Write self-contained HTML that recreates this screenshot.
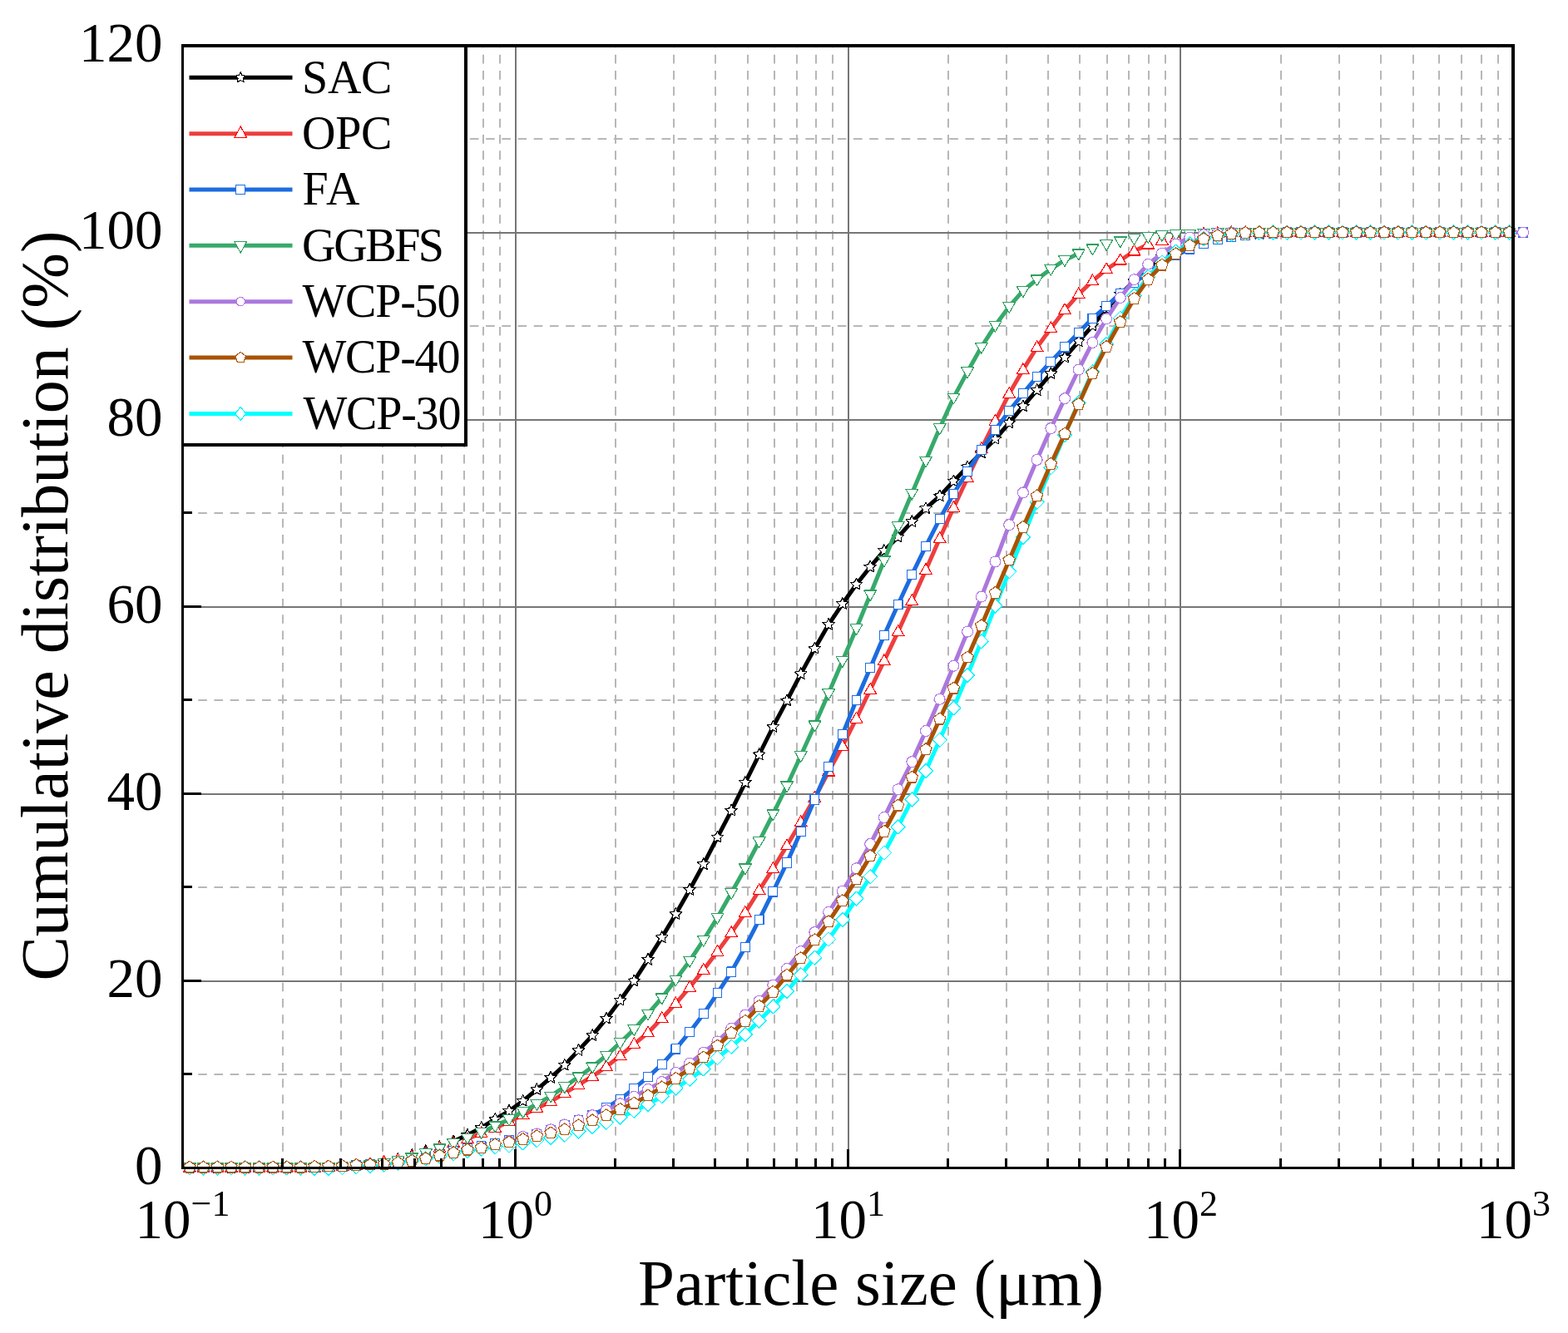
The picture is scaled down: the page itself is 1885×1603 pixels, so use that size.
<!DOCTYPE html><html><head><meta charset="utf-8"><title>Cumulative distribution</title>
<style>html,body{margin:0;padding:0;background:#fff;}svg{display:block;}text{font-family:"Liberation Serif","Times New Roman",serif;fill:#000;}</style></head><body>
<svg xmlns="http://www.w3.org/2000/svg" width="1885" height="1603" viewBox="0 0 1885 1603">
<rect x="0" y="0" width="1885" height="1603" fill="#fff"/>
<path d="M340 1404V55 M410 1404V55 M460 1404V55 M499 1404V55 M531 1404V55 M558 1404V55 M581 1404V55 M601 1404V55 M740 1404V55 M810 1404V55 M860 1404V55 M899 1404V55 M931 1404V55 M958 1404V55 M981 1404V55 M1001 1404V55 M1140 1404V55 M1210 1404V55 M1260 1404V55 M1298 1404V55 M1331 1404V55 M1357 1404V55 M1381 1404V55 M1401 1404V55 M1540 1404V55 M1610 1404V55 M1660 1404V55 M1699 1404V55 M1730 1404V55 M1757 1404V55 M1781 1404V55 M1801 1404V55" stroke="#b7b7b7" stroke-width="2" stroke-dasharray="10.6 8.64" fill="none"/>
<path d="M219 1292H1819 M219 1067H1819 M219 842H1819 M219 617H1819 M219 392H1819 M219 167H1819" stroke="#b7b7b7" stroke-width="2" stroke-dasharray="10.6 8.615" fill="none"/>
<rect x="619" y="55" width="2" height="1349" fill="#767676"/><rect x="1019" y="55" width="2" height="1349" fill="#767676"/><rect x="1418" y="55" width="2" height="1349" fill="#767676"/><rect x="219" y="1179" width="1600" height="2" fill="#767676"/><rect x="219" y="954" width="1600" height="2" fill="#767676"/><rect x="219" y="729" width="1600" height="2" fill="#767676"/><rect x="219" y="504" width="1600" height="2" fill="#767676"/><rect x="219" y="279" width="1600" height="2" fill="#767676"/>
<path d="M545.20,1372.50 L561.90,1364.90 L578.60,1356.20 L595.30,1345.90 L612.00,1336.10 L628.70,1323.90 L645.40,1310.30 L662.10,1295.90 L678.80,1280.90 L695.50,1263.10 L712.20,1245.10 L728.90,1224.90 L745.60,1203.00 L762.30,1179.60 L779.00,1153.90 L795.70,1127.40 L812.40,1099.30 L829.10,1069.90 L845.80,1039.30 L862.50,1006.80 L879.20,974.80 L895.90,941.10 L912.60,907.50 L929.30,874.00 L946.00,842.60 L962.70,810.40 L979.40,779.90 L996.10,751.10 L1012.80,726.10 L1029.50,702.80 L1046.20,681.70 L1062.90,662.20 L1079.60,645.80 L1096.30,627.40 L1113.00,611.40 L1129.70,596.60 L1146.40,578.70 L1163.10,561.50 L1179.80,544.40 L1196.50,528.00 L1213.20,508.50 L1229.90,488.60 L1246.60,469.20 L1263.30,449.30 L1280.00,429.80 L1296.70,410.60 L1313.40,391.60 L1330.10,371.10 L1346.80,354.10 L1363.50,338.10 L1380.20,321.60 L1396.90,309.00 L1413.60,301.30 L1430.30,294.01" stroke="#000000" stroke-width="5.0" fill="none" stroke-linejoin="round"/>
<path d="M227.90,1396.53 230.02,1401.12 235.03,1401.71 231.32,1405.14 232.31,1410.10 227.90,1407.63 223.49,1410.10 224.48,1405.14 220.77,1401.71 225.78,1401.12ZM244.60,1396.53 246.72,1401.12 251.73,1401.71 248.02,1405.14 249.01,1410.10 244.60,1407.63 240.19,1410.10 241.18,1405.14 237.47,1401.71 242.48,1401.12ZM261.30,1396.53 263.42,1401.12 268.43,1401.71 264.72,1405.14 265.71,1410.10 261.30,1407.63 256.89,1410.10 257.88,1405.14 254.17,1401.71 259.18,1401.12ZM278.00,1396.53 280.12,1401.12 285.13,1401.71 281.42,1405.14 282.41,1410.10 278.00,1407.63 273.59,1410.10 274.58,1405.14 270.87,1401.71 275.88,1401.12ZM294.70,1396.53 296.82,1401.12 301.83,1401.71 298.12,1405.14 299.11,1410.10 294.70,1407.63 290.29,1410.10 291.28,1405.14 287.57,1401.71 292.58,1401.12ZM311.40,1396.53 313.52,1401.12 318.53,1401.71 314.82,1405.14 315.81,1410.10 311.40,1407.63 306.99,1410.10 307.98,1405.14 304.27,1401.71 309.28,1401.12ZM328.10,1396.53 330.22,1401.12 335.23,1401.71 331.52,1405.14 332.51,1410.10 328.10,1407.63 323.69,1410.10 324.68,1405.14 320.97,1401.71 325.98,1401.12ZM344.80,1396.53 346.92,1401.12 351.93,1401.71 348.22,1405.14 349.21,1410.10 344.80,1407.63 340.39,1410.10 341.38,1405.14 337.67,1401.71 342.68,1401.12ZM361.50,1396.53 363.62,1401.12 368.63,1401.71 364.92,1405.14 365.91,1410.10 361.50,1407.63 357.09,1410.10 358.08,1405.14 354.37,1401.71 359.38,1401.12ZM378.20,1396.06 380.32,1400.65 385.33,1401.24 381.62,1404.67 382.61,1409.63 378.20,1407.16 373.79,1409.63 374.78,1404.67 371.07,1401.24 376.08,1400.65ZM394.90,1395.59 397.02,1400.18 402.03,1400.77 398.32,1404.20 399.31,1409.16 394.90,1406.69 390.49,1409.16 391.48,1404.20 387.77,1400.77 392.78,1400.18ZM411.60,1394.65 413.72,1399.24 418.73,1399.83 415.02,1403.26 416.01,1408.22 411.60,1405.75 407.19,1408.22 408.18,1403.26 404.47,1399.83 409.48,1399.24ZM428.30,1393.71 430.42,1398.30 435.43,1398.89 431.72,1402.32 432.71,1407.28 428.30,1404.81 423.89,1407.28 424.88,1402.32 421.17,1398.89 426.18,1398.30ZM445.00,1392.30 447.12,1396.89 452.13,1397.48 448.42,1400.91 449.41,1405.87 445.00,1403.40 440.59,1405.87 441.58,1400.91 437.87,1397.48 442.88,1396.89ZM461.70,1389.95 463.82,1394.54 468.83,1395.13 465.12,1398.56 466.11,1403.52 461.70,1401.05 457.29,1403.52 458.28,1398.56 454.57,1395.13 459.58,1394.54ZM478.40,1386.60 480.52,1391.19 485.53,1391.78 481.82,1395.21 482.81,1400.17 478.40,1397.70 473.99,1400.17 474.98,1395.21 471.27,1391.78 476.28,1391.19ZM495.10,1381.70 497.22,1386.29 502.23,1386.88 498.52,1390.31 499.51,1395.27 495.10,1392.80 490.69,1395.27 491.68,1390.31 487.97,1386.88 492.98,1386.29ZM511.80,1376.60 513.92,1381.19 518.93,1381.78 515.22,1385.21 516.21,1390.17 511.80,1387.70 507.39,1390.17 508.38,1385.21 504.67,1381.78 509.68,1381.19ZM528.50,1371.70 530.62,1376.29 535.63,1376.88 531.92,1380.31 532.91,1385.27 528.50,1382.80 524.09,1385.27 525.08,1380.31 521.37,1376.88 526.38,1376.29ZM545.20,1365.00 547.32,1369.59 552.33,1370.18 548.62,1373.61 549.61,1378.57 545.20,1376.10 540.79,1378.57 541.78,1373.61 538.07,1370.18 543.08,1369.59ZM561.90,1357.40 564.02,1361.99 569.03,1362.58 565.32,1366.01 566.31,1370.97 561.90,1368.50 557.49,1370.97 558.48,1366.01 554.77,1362.58 559.78,1361.99ZM578.60,1348.70 580.72,1353.29 585.73,1353.88 582.02,1357.31 583.01,1362.27 578.60,1359.80 574.19,1362.27 575.18,1357.31 571.47,1353.88 576.48,1353.29ZM595.30,1338.40 597.42,1342.99 602.43,1343.58 598.72,1347.01 599.71,1351.97 595.30,1349.50 590.89,1351.97 591.88,1347.01 588.17,1343.58 593.18,1342.99ZM612.00,1328.60 614.12,1333.19 619.13,1333.78 615.42,1337.21 616.41,1342.17 612.00,1339.70 607.59,1342.17 608.58,1337.21 604.87,1333.78 609.88,1333.19ZM628.70,1316.40 630.82,1320.99 635.83,1321.58 632.12,1325.01 633.11,1329.97 628.70,1327.50 624.29,1329.97 625.28,1325.01 621.57,1321.58 626.58,1320.99ZM645.40,1302.80 647.52,1307.39 652.53,1307.98 648.82,1311.41 649.81,1316.37 645.40,1313.90 640.99,1316.37 641.98,1311.41 638.27,1307.98 643.28,1307.39ZM662.10,1288.40 664.22,1292.99 669.23,1293.58 665.52,1297.01 666.51,1301.97 662.10,1299.50 657.69,1301.97 658.68,1297.01 654.97,1293.58 659.98,1292.99ZM678.80,1273.40 680.92,1277.99 685.93,1278.58 682.22,1282.01 683.21,1286.97 678.80,1284.50 674.39,1286.97 675.38,1282.01 671.67,1278.58 676.68,1277.99ZM695.50,1255.60 697.62,1260.19 702.63,1260.78 698.92,1264.21 699.91,1269.17 695.50,1266.70 691.09,1269.17 692.08,1264.21 688.37,1260.78 693.38,1260.19ZM712.20,1237.60 714.32,1242.19 719.33,1242.78 715.62,1246.21 716.61,1251.17 712.20,1248.70 707.79,1251.17 708.78,1246.21 705.07,1242.78 710.08,1242.19ZM728.90,1217.40 731.02,1221.99 736.03,1222.58 732.32,1226.01 733.31,1230.97 728.90,1228.50 724.49,1230.97 725.48,1226.01 721.77,1222.58 726.78,1221.99ZM745.60,1195.50 747.72,1200.09 752.73,1200.68 749.02,1204.11 750.01,1209.07 745.60,1206.60 741.19,1209.07 742.18,1204.11 738.47,1200.68 743.48,1200.09ZM762.30,1172.10 764.42,1176.69 769.43,1177.28 765.72,1180.71 766.71,1185.67 762.30,1183.20 757.89,1185.67 758.88,1180.71 755.17,1177.28 760.18,1176.69ZM779.00,1146.40 781.12,1150.99 786.13,1151.58 782.42,1155.01 783.41,1159.97 779.00,1157.50 774.59,1159.97 775.58,1155.01 771.87,1151.58 776.88,1150.99ZM795.70,1119.90 797.82,1124.49 802.83,1125.08 799.12,1128.51 800.11,1133.47 795.70,1131.00 791.29,1133.47 792.28,1128.51 788.57,1125.08 793.58,1124.49ZM812.40,1091.80 814.52,1096.39 819.53,1096.98 815.82,1100.41 816.81,1105.37 812.40,1102.90 807.99,1105.37 808.98,1100.41 805.27,1096.98 810.28,1096.39ZM829.10,1062.40 831.22,1066.99 836.23,1067.58 832.52,1071.01 833.51,1075.97 829.10,1073.50 824.69,1075.97 825.68,1071.01 821.97,1067.58 826.98,1066.99ZM845.80,1031.80 847.92,1036.39 852.93,1036.98 849.22,1040.41 850.21,1045.37 845.80,1042.90 841.39,1045.37 842.38,1040.41 838.67,1036.98 843.68,1036.39ZM862.50,999.30 864.62,1003.89 869.63,1004.48 865.92,1007.91 866.91,1012.87 862.50,1010.40 858.09,1012.87 859.08,1007.91 855.37,1004.48 860.38,1003.89ZM879.20,967.30 881.32,971.89 886.33,972.48 882.62,975.91 883.61,980.87 879.20,978.40 874.79,980.87 875.78,975.91 872.07,972.48 877.08,971.89ZM895.90,933.60 898.02,938.19 903.03,938.78 899.32,942.21 900.31,947.17 895.90,944.70 891.49,947.17 892.48,942.21 888.77,938.78 893.78,938.19ZM912.60,900.00 914.72,904.59 919.73,905.18 916.02,908.61 917.01,913.57 912.60,911.10 908.19,913.57 909.18,908.61 905.47,905.18 910.48,904.59ZM929.30,866.50 931.42,871.09 936.43,871.68 932.72,875.11 933.71,880.07 929.30,877.60 924.89,880.07 925.88,875.11 922.17,871.68 927.18,871.09ZM946.00,835.10 948.12,839.69 953.13,840.28 949.42,843.71 950.41,848.67 946.00,846.20 941.59,848.67 942.58,843.71 938.87,840.28 943.88,839.69ZM962.70,802.90 964.82,807.49 969.83,808.08 966.12,811.51 967.11,816.47 962.70,814.00 958.29,816.47 959.28,811.51 955.57,808.08 960.58,807.49ZM979.40,772.40 981.52,776.99 986.53,777.58 982.82,781.01 983.81,785.97 979.40,783.50 974.99,785.97 975.98,781.01 972.27,777.58 977.28,776.99ZM996.10,743.60 998.22,748.19 1003.23,748.78 999.52,752.21 1000.51,757.17 996.10,754.70 991.69,757.17 992.68,752.21 988.97,748.78 993.98,748.19ZM1012.80,718.60 1014.92,723.19 1019.93,723.78 1016.22,727.21 1017.21,732.17 1012.80,729.70 1008.39,732.17 1009.38,727.21 1005.67,723.78 1010.68,723.19ZM1029.50,695.30 1031.62,699.89 1036.63,700.48 1032.92,703.91 1033.91,708.87 1029.50,706.40 1025.09,708.87 1026.08,703.91 1022.37,700.48 1027.38,699.89ZM1046.20,674.20 1048.32,678.79 1053.33,679.38 1049.62,682.81 1050.61,687.77 1046.20,685.30 1041.79,687.77 1042.78,682.81 1039.07,679.38 1044.08,678.79ZM1062.90,654.70 1065.02,659.29 1070.03,659.88 1066.32,663.31 1067.31,668.27 1062.90,665.80 1058.49,668.27 1059.48,663.31 1055.77,659.88 1060.78,659.29ZM1079.60,638.30 1081.72,642.89 1086.73,643.48 1083.02,646.91 1084.01,651.87 1079.60,649.40 1075.19,651.87 1076.18,646.91 1072.47,643.48 1077.48,642.89ZM1096.30,619.90 1098.42,624.49 1103.43,625.08 1099.72,628.51 1100.71,633.47 1096.30,631.00 1091.89,633.47 1092.88,628.51 1089.17,625.08 1094.18,624.49ZM1113.00,603.90 1115.12,608.49 1120.13,609.08 1116.42,612.51 1117.41,617.47 1113.00,615.00 1108.59,617.47 1109.58,612.51 1105.87,609.08 1110.88,608.49ZM1129.70,589.10 1131.82,593.69 1136.83,594.28 1133.12,597.71 1134.11,602.67 1129.70,600.20 1125.29,602.67 1126.28,597.71 1122.57,594.28 1127.58,593.69ZM1146.40,571.20 1148.52,575.79 1153.53,576.38 1149.82,579.81 1150.81,584.77 1146.40,582.30 1141.99,584.77 1142.98,579.81 1139.27,576.38 1144.28,575.79ZM1163.10,554.00 1165.22,558.59 1170.23,559.18 1166.52,562.61 1167.51,567.57 1163.10,565.10 1158.69,567.57 1159.68,562.61 1155.97,559.18 1160.98,558.59ZM1179.80,536.90 1181.92,541.49 1186.93,542.08 1183.22,545.51 1184.21,550.47 1179.80,548.00 1175.39,550.47 1176.38,545.51 1172.67,542.08 1177.68,541.49ZM1196.50,520.50 1198.62,525.09 1203.63,525.68 1199.92,529.11 1200.91,534.07 1196.50,531.60 1192.09,534.07 1193.08,529.11 1189.37,525.68 1194.38,525.09ZM1213.20,501.00 1215.32,505.59 1220.33,506.18 1216.62,509.61 1217.61,514.57 1213.20,512.10 1208.79,514.57 1209.78,509.61 1206.07,506.18 1211.08,505.59ZM1229.90,481.10 1232.02,485.69 1237.03,486.28 1233.32,489.71 1234.31,494.67 1229.90,492.20 1225.49,494.67 1226.48,489.71 1222.77,486.28 1227.78,485.69ZM1246.60,461.70 1248.72,466.29 1253.73,466.88 1250.02,470.31 1251.01,475.27 1246.60,472.80 1242.19,475.27 1243.18,470.31 1239.47,466.88 1244.48,466.29ZM1263.30,441.80 1265.42,446.39 1270.43,446.98 1266.72,450.41 1267.71,455.37 1263.30,452.90 1258.89,455.37 1259.88,450.41 1256.17,446.98 1261.18,446.39ZM1280.00,422.30 1282.12,426.89 1287.13,427.48 1283.42,430.91 1284.41,435.87 1280.00,433.40 1275.59,435.87 1276.58,430.91 1272.87,427.48 1277.88,426.89ZM1296.70,403.10 1298.82,407.69 1303.83,408.28 1300.12,411.71 1301.11,416.67 1296.70,414.20 1292.29,416.67 1293.28,411.71 1289.57,408.28 1294.58,407.69ZM1313.40,384.10 1315.52,388.69 1320.53,389.28 1316.82,392.71 1317.81,397.67 1313.40,395.20 1308.99,397.67 1309.98,392.71 1306.27,389.28 1311.28,388.69ZM1330.10,363.60 1332.22,368.19 1337.23,368.78 1333.52,372.21 1334.51,377.17 1330.10,374.70 1325.69,377.17 1326.68,372.21 1322.97,368.78 1327.98,368.19ZM1346.80,346.60 1348.92,351.19 1353.93,351.78 1350.22,355.21 1351.21,360.17 1346.80,357.70 1342.39,360.17 1343.38,355.21 1339.67,351.78 1344.68,351.19ZM1363.50,330.60 1365.62,335.19 1370.63,335.78 1366.92,339.21 1367.91,344.17 1363.50,341.70 1359.09,344.17 1360.08,339.21 1356.37,335.78 1361.38,335.19ZM1380.20,314.10 1382.32,318.69 1387.33,319.28 1383.62,322.71 1384.61,327.67 1380.20,325.20 1375.79,327.67 1376.78,322.71 1373.07,319.28 1378.08,318.69ZM1396.90,301.50 1399.02,306.09 1404.03,306.68 1400.32,310.11 1401.31,315.07 1396.90,312.60 1392.49,315.07 1393.48,310.11 1389.77,306.68 1394.78,306.09ZM1413.60,293.80 1415.72,298.39 1420.73,298.98 1417.02,302.41 1418.01,307.37 1413.60,304.90 1409.19,307.37 1410.18,302.41 1406.47,298.98 1411.48,298.39ZM1430.30,286.51 1432.42,291.10 1437.43,291.69 1433.72,295.12 1434.71,300.08 1430.30,297.61 1425.89,300.08 1426.88,295.12 1423.17,291.69 1428.18,291.10ZM1447.00,281.26 1449.12,285.85 1454.13,286.44 1450.42,289.87 1451.41,294.83 1447.00,292.36 1442.59,294.83 1443.58,289.87 1439.87,286.44 1444.88,285.85ZM1463.70,277.65 1465.82,282.24 1470.83,282.84 1467.12,286.27 1468.11,291.22 1463.70,288.75 1459.29,291.22 1460.28,286.27 1456.57,282.84 1461.58,282.24ZM1480.40,275.59 1482.52,280.18 1487.53,280.78 1483.82,284.21 1484.81,289.16 1480.40,286.69 1475.99,289.16 1476.98,284.21 1473.27,280.78 1478.28,280.18ZM1497.10,274.05 1499.22,278.64 1504.23,279.23 1500.52,282.66 1501.51,287.62 1497.10,285.15 1492.69,287.62 1493.68,282.66 1489.97,279.23 1494.98,278.64ZM1513.80,273.53 1515.92,278.12 1520.93,278.72 1517.22,282.15 1518.21,287.10 1513.80,284.63 1509.39,287.10 1510.38,282.15 1506.67,278.72 1511.68,278.12ZM1530.50,273.02 1532.62,277.61 1537.63,278.20 1533.92,281.63 1534.91,286.59 1530.50,284.12 1526.09,286.59 1527.08,281.63 1523.37,278.20 1528.38,277.61ZM1547.20,272.09 1549.32,276.68 1554.33,277.27 1550.62,280.70 1551.61,285.66 1547.20,283.19 1542.79,285.66 1543.78,280.70 1540.07,277.27 1545.08,276.68ZM1563.90,272.07 1566.02,276.66 1571.03,277.26 1567.32,280.69 1568.31,285.64 1563.90,283.17 1559.49,285.64 1560.48,280.69 1556.77,277.26 1561.78,276.66ZM1580.60,272.06 1582.72,276.65 1587.73,277.24 1584.02,280.67 1585.01,285.63 1580.60,283.16 1576.19,285.63 1577.18,280.67 1573.47,277.24 1578.48,276.65ZM1597.30,272.05 1599.42,276.64 1604.43,277.23 1600.72,280.66 1601.71,285.62 1597.30,283.15 1592.89,285.62 1593.88,280.66 1590.17,277.23 1595.18,276.64ZM1614.00,272.04 1616.12,276.62 1621.13,277.22 1617.42,280.65 1618.41,285.60 1614.00,283.14 1609.59,285.60 1610.58,280.65 1606.87,277.22 1611.88,276.62ZM1630.70,272.03 1632.82,276.61 1637.83,277.21 1634.12,280.64 1635.11,285.59 1630.70,283.13 1626.29,285.59 1627.28,280.64 1623.57,277.21 1628.58,276.61ZM1647.40,272.02 1649.52,276.61 1654.53,277.20 1650.82,280.63 1651.81,285.59 1647.40,283.12 1642.99,285.59 1643.98,280.63 1640.27,277.20 1645.28,276.61ZM1664.10,272.01 1666.22,276.60 1671.23,277.19 1667.52,280.62 1668.51,285.58 1664.10,283.11 1659.69,285.58 1660.68,280.62 1656.97,277.19 1661.98,276.60ZM1680.80,272.01 1682.92,276.59 1687.93,277.19 1684.22,280.62 1685.21,285.57 1680.80,283.11 1676.39,285.57 1677.38,280.62 1673.67,277.19 1678.68,276.59ZM1697.50,272.00 1699.62,276.59 1704.63,277.18 1700.92,280.61 1701.91,285.57 1697.50,283.10 1693.09,285.57 1694.08,280.61 1690.37,277.18 1695.38,276.59ZM1714.20,272.00 1716.32,276.58 1721.33,277.18 1717.62,280.61 1718.61,285.56 1714.20,283.10 1709.79,285.56 1710.78,280.61 1707.07,277.18 1712.08,276.58ZM1730.90,271.99 1733.02,276.58 1738.03,277.18 1734.32,280.61 1735.31,285.56 1730.90,283.09 1726.49,285.56 1727.48,280.61 1723.77,277.18 1728.78,276.58ZM1747.60,271.99 1749.72,276.58 1754.73,277.17 1751.02,280.60 1752.01,285.56 1747.60,283.09 1743.19,285.56 1744.18,280.60 1740.47,277.17 1745.48,276.58ZM1764.30,271.99 1766.42,276.58 1771.43,277.17 1767.72,280.60 1768.71,285.56 1764.30,283.09 1759.89,285.56 1760.88,280.60 1757.17,277.17 1762.18,276.58ZM1781.00,271.99 1783.12,276.58 1788.13,277.17 1784.42,280.60 1785.41,285.56 1781.00,283.09 1776.59,285.56 1777.58,280.60 1773.87,277.17 1778.88,276.58ZM1797.70,271.99 1799.82,276.58 1804.83,277.17 1801.12,280.60 1802.11,285.56 1797.70,283.09 1793.29,285.56 1794.28,280.60 1790.57,277.17 1795.58,276.58ZM1814.40,271.99 1816.52,276.58 1821.53,277.17 1817.82,280.60 1818.81,285.56 1814.40,283.09 1809.99,285.56 1810.98,280.60 1807.27,277.17 1812.28,276.58Z" stroke="#000000" stroke-width="1.15" fill="#fff" stroke-linejoin="round" shape-rendering="crispEdges"/>
<path d="M561.90,1369.80 L578.60,1362.80M595.30,1356.70 L612.00,1348.50 L628.70,1340.90 L645.40,1332.70 L662.10,1324.70 L678.80,1314.60 L695.50,1304.40 L712.20,1294.50 L728.90,1282.70 L745.60,1269.70 L762.30,1255.70 L779.00,1241.90 L795.70,1224.60 L812.40,1206.80 L829.10,1187.40 L845.80,1166.30 L862.50,1144.33 L879.20,1121.62 L895.90,1097.50 L912.60,1070.70 L929.30,1044.70 L946.00,1016.90 L962.70,988.80 L979.40,959.50 L996.10,928.00 L1012.80,897.30 L1029.50,864.10 L1046.20,829.30 L1062.90,794.60 L1079.60,759.70 L1096.30,722.70 L1113.00,685.50 L1129.70,647.60 L1146.40,610.50 L1163.10,574.70 L1179.80,539.60 L1196.50,506.40 L1213.20,473.60 L1229.90,444.60 L1246.60,417.70 L1263.30,394.80 L1280.00,372.80 L1296.70,353.80 L1313.40,337.90 L1330.10,323.80 L1346.80,313.00 L1363.50,302.00 L1380.20,293.96" stroke="#ee3e3e" stroke-width="5.0" fill="none" stroke-linejoin="round"/>
<path d="M227.90,1396.17 235.30,1408.97 220.50,1408.97ZM244.60,1396.17 252.00,1408.97 237.20,1408.97ZM261.30,1396.17 268.70,1408.97 253.90,1408.97ZM278.00,1396.17 285.40,1408.97 270.60,1408.97ZM294.70,1396.17 302.10,1408.97 287.30,1408.97ZM311.40,1396.17 318.80,1408.97 304.00,1408.97ZM328.10,1396.17 335.50,1408.97 320.70,1408.97ZM344.80,1396.17 352.20,1408.97 337.40,1408.97ZM361.50,1396.17 368.90,1408.97 354.10,1408.97ZM378.20,1396.17 385.60,1408.97 370.80,1408.97ZM394.90,1395.43 402.30,1408.23 387.50,1408.23ZM411.60,1394.58 419.00,1407.38 404.20,1407.38ZM428.30,1393.52 435.70,1406.32 420.90,1406.32ZM445.00,1392.46 452.40,1405.26 437.60,1405.26ZM461.70,1389.60 469.10,1402.40 454.30,1402.40ZM478.40,1387.16 485.80,1399.96 471.00,1399.96ZM495.10,1383.00 502.50,1395.80 487.70,1395.80ZM511.80,1379.30 519.20,1392.10 504.40,1392.10ZM528.50,1372.70 535.90,1385.50 521.10,1385.50ZM545.20,1367.00 552.60,1379.80 537.80,1379.80ZM561.90,1362.00 569.30,1374.80 554.50,1374.80ZM578.60,1355.00 586.00,1367.80 571.20,1367.80ZM595.30,1348.90 602.70,1361.70 587.90,1361.70ZM612.00,1340.70 619.40,1353.50 604.60,1353.50ZM628.70,1333.10 636.10,1345.90 621.30,1345.90ZM645.40,1324.90 652.80,1337.70 638.00,1337.70ZM662.10,1316.90 669.50,1329.70 654.70,1329.70ZM678.80,1306.80 686.20,1319.60 671.40,1319.60ZM695.50,1296.60 702.90,1309.40 688.10,1309.40ZM712.20,1286.70 719.60,1299.50 704.80,1299.50ZM728.90,1274.90 736.30,1287.70 721.50,1287.70ZM745.60,1261.90 753.00,1274.70 738.20,1274.70ZM762.30,1247.90 769.70,1260.70 754.90,1260.70ZM779.00,1234.10 786.40,1246.90 771.60,1246.90ZM795.70,1216.80 803.10,1229.60 788.30,1229.60ZM812.40,1199.00 819.80,1211.80 805.00,1211.80ZM829.10,1179.60 836.50,1192.40 821.70,1192.40ZM845.80,1158.50 853.20,1171.30 838.40,1171.30ZM862.50,1136.53 869.90,1149.33 855.10,1149.33ZM879.20,1113.82 886.60,1126.62 871.80,1126.62ZM895.90,1089.70 903.30,1102.50 888.50,1102.50ZM912.60,1062.90 920.00,1075.70 905.20,1075.70ZM929.30,1036.90 936.70,1049.70 921.90,1049.70ZM946.00,1009.10 953.40,1021.90 938.60,1021.90ZM962.70,981.00 970.10,993.80 955.30,993.80ZM979.40,951.70 986.80,964.50 972.00,964.50ZM996.10,920.20 1003.50,933.00 988.70,933.00ZM1012.80,889.50 1020.20,902.30 1005.40,902.30ZM1029.50,856.30 1036.90,869.10 1022.10,869.10ZM1046.20,821.50 1053.60,834.30 1038.80,834.30ZM1062.90,786.80 1070.30,799.60 1055.50,799.60ZM1079.60,751.90 1087.00,764.70 1072.20,764.70ZM1096.30,714.90 1103.70,727.70 1088.90,727.70ZM1113.00,677.70 1120.40,690.50 1105.60,690.50ZM1129.70,639.80 1137.10,652.60 1122.30,652.60ZM1146.40,602.70 1153.80,615.50 1139.00,615.50ZM1163.10,566.90 1170.50,579.70 1155.70,579.70ZM1179.80,531.80 1187.20,544.60 1172.40,544.60ZM1196.50,498.60 1203.90,511.40 1189.10,511.40ZM1213.20,465.80 1220.60,478.60 1205.80,478.60ZM1229.90,436.80 1237.30,449.60 1222.50,449.60ZM1246.60,409.90 1254.00,422.70 1239.20,422.70ZM1263.30,387.00 1270.70,399.80 1255.90,399.80ZM1280.00,365.00 1287.40,377.80 1272.60,377.80ZM1296.70,346.00 1304.10,358.80 1289.30,358.80ZM1313.40,330.10 1320.80,342.90 1306.00,342.90ZM1330.10,316.00 1337.50,328.80 1322.70,328.80ZM1346.80,305.20 1354.20,318.00 1339.40,318.00ZM1363.50,294.20 1370.90,307.00 1356.10,307.00ZM1380.20,286.16 1387.60,298.96 1372.80,298.96ZM1396.90,281.41 1404.30,294.21 1389.50,294.21ZM1413.60,278.50 1421.00,291.30 1406.20,291.30ZM1430.30,276.08 1437.70,288.88 1422.90,288.88ZM1447.00,273.65 1454.40,286.45 1439.60,286.45ZM1463.70,272.68 1471.10,285.48 1456.30,285.48ZM1480.40,271.91 1487.80,284.71 1473.00,284.71ZM1497.10,271.88 1504.50,284.68 1489.70,284.68ZM1513.80,271.86 1521.20,284.66 1506.40,284.66ZM1530.50,271.84 1537.90,284.64 1523.10,284.64ZM1547.20,271.82 1554.60,284.62 1539.80,284.62ZM1563.90,271.80 1571.30,284.60 1556.50,284.60ZM1580.60,271.78 1588.00,284.58 1573.20,284.58ZM1597.30,271.77 1604.70,284.57 1589.90,284.57ZM1614.00,271.76 1621.40,284.56 1606.60,284.56ZM1630.70,271.75 1638.10,284.55 1623.30,284.55ZM1647.40,271.74 1654.80,284.54 1640.00,284.54ZM1664.10,271.73 1671.50,284.53 1656.70,284.53ZM1680.80,271.73 1688.20,284.53 1673.40,284.53ZM1697.50,271.72 1704.90,284.52 1690.10,284.52ZM1714.20,271.72 1721.60,284.52 1706.80,284.52ZM1730.90,271.72 1738.30,284.52 1723.50,284.52ZM1747.60,271.71 1755.00,284.51 1740.20,284.51ZM1764.30,271.71 1771.70,284.51 1756.90,284.51ZM1781.00,271.71 1788.40,284.51 1773.60,284.51ZM1797.70,271.71 1805.10,284.51 1790.30,284.51ZM1814.40,271.71 1821.80,284.51 1807.00,284.51Z" stroke="#ff0000" stroke-width="1.15" fill="#fff" stroke-linejoin="round" shape-rendering="crispEdges"/>
<path d="M712.20,1341.30 L728.90,1332.20 L745.60,1321.90 L762.30,1308.90 L779.00,1295.10 L795.70,1280.10 L812.40,1261.40 L829.10,1241.20 L845.80,1219.30 L862.50,1194.30 L879.20,1168.60 L895.90,1138.69 L912.60,1106.07 L929.30,1072.40 L946.00,1037.50 L962.70,1000.00 L979.40,961.50 L996.10,922.20 L1012.80,883.20 L1029.50,842.00 L1046.20,803.20 L1062.90,764.10 L1079.60,727.00 L1096.30,691.10 L1113.00,656.90 L1129.70,624.20 L1146.40,593.70 L1163.10,567.10 L1179.80,541.10 L1196.50,516.90 L1213.20,494.20 L1229.90,473.20 L1246.60,453.20 L1263.30,434.90 L1280.00,417.40 L1296.70,400.00 L1313.40,382.80 L1330.10,368.30 L1346.80,352.80 L1363.50,340.00 L1380.20,328.00 L1396.90,317.00 L1413.60,307.00 L1430.30,299.40M1814.40,279.50 L1831.10,279.50" stroke="#1c6ce0" stroke-width="5.0" fill="none" stroke-linejoin="round"/>
<path d="M222.50,1398.40h10.80v11.20h-10.80ZM239.20,1398.40h10.80v11.20h-10.80ZM255.90,1398.40h10.80v11.20h-10.80ZM272.60,1398.40h10.80v11.20h-10.80ZM289.30,1398.40h10.80v11.20h-10.80ZM306.00,1398.40h10.80v11.20h-10.80ZM322.70,1398.40h10.80v11.20h-10.80ZM339.40,1398.40h10.80v11.20h-10.80ZM356.10,1398.40h10.80v11.20h-10.80ZM372.80,1398.40h10.80v11.20h-10.80ZM389.50,1398.40h10.80v11.20h-10.80ZM406.20,1397.40h10.80v11.20h-10.80ZM422.90,1395.90h10.80v11.20h-10.80ZM439.60,1394.90h10.80v11.20h-10.80ZM456.30,1393.40h10.80v11.20h-10.80ZM473.00,1391.40h10.80v11.20h-10.80ZM489.70,1388.40h10.80v11.20h-10.80ZM506.40,1385.90h10.80v11.20h-10.80ZM523.10,1382.40h10.80v11.20h-10.80ZM539.80,1378.40h10.80v11.20h-10.80ZM556.50,1375.40h10.80v11.20h-10.80ZM573.20,1372.90h10.80v11.20h-10.80ZM589.90,1369.90h10.80v11.20h-10.80ZM606.60,1365.90h10.80v11.20h-10.80ZM623.30,1362.40h10.80v11.20h-10.80ZM640.00,1358.60h10.80v11.20h-10.80ZM656.70,1353.40h10.80v11.20h-10.80ZM673.40,1347.40h10.80v11.20h-10.80ZM690.10,1341.40h10.80v11.20h-10.80ZM706.80,1335.70h10.80v11.20h-10.80ZM723.50,1326.60h10.80v11.20h-10.80ZM740.20,1316.30h10.80v11.20h-10.80ZM756.90,1303.30h10.80v11.20h-10.80ZM773.60,1289.50h10.80v11.20h-10.80ZM790.30,1274.50h10.80v11.20h-10.80ZM807.00,1255.80h10.80v11.20h-10.80ZM823.70,1235.60h10.80v11.20h-10.80ZM840.40,1213.70h10.80v11.20h-10.80ZM857.10,1188.70h10.80v11.20h-10.80ZM873.80,1163.00h10.80v11.20h-10.80ZM890.50,1133.09h10.80v11.20h-10.80ZM907.20,1100.47h10.80v11.20h-10.80ZM923.90,1066.80h10.80v11.20h-10.80ZM940.60,1031.90h10.80v11.20h-10.80ZM957.30,994.40h10.80v11.20h-10.80ZM974.00,955.90h10.80v11.20h-10.80ZM990.70,916.60h10.80v11.20h-10.80ZM1007.40,877.60h10.80v11.20h-10.80ZM1024.10,836.40h10.80v11.20h-10.80ZM1040.80,797.60h10.80v11.20h-10.80ZM1057.50,758.50h10.80v11.20h-10.80ZM1074.20,721.40h10.80v11.20h-10.80ZM1090.90,685.50h10.80v11.20h-10.80ZM1107.60,651.30h10.80v11.20h-10.80ZM1124.30,618.60h10.80v11.20h-10.80ZM1141.00,588.10h10.80v11.20h-10.80ZM1157.70,561.50h10.80v11.20h-10.80ZM1174.40,535.50h10.80v11.20h-10.80ZM1191.10,511.30h10.80v11.20h-10.80ZM1207.80,488.60h10.80v11.20h-10.80ZM1224.50,467.60h10.80v11.20h-10.80ZM1241.20,447.60h10.80v11.20h-10.80ZM1257.90,429.30h10.80v11.20h-10.80ZM1274.60,411.80h10.80v11.20h-10.80ZM1291.30,394.40h10.80v11.20h-10.80ZM1308.00,377.20h10.80v11.20h-10.80ZM1324.70,362.70h10.80v11.20h-10.80ZM1341.40,347.20h10.80v11.20h-10.80ZM1358.10,334.40h10.80v11.20h-10.80ZM1374.80,322.40h10.80v11.20h-10.80ZM1391.50,311.40h10.80v11.20h-10.80ZM1408.20,301.40h10.80v11.20h-10.80ZM1424.90,293.80h10.80v11.20h-10.80ZM1441.60,287.40h10.80v11.20h-10.80ZM1458.30,282.50h10.80v11.20h-10.80ZM1475.00,279.60h10.80v11.20h-10.80ZM1491.70,277.30h10.80v11.20h-10.80ZM1508.40,275.50h10.80v11.20h-10.80ZM1525.10,274.90h10.80v11.20h-10.80ZM1541.80,274.00h10.80v11.20h-10.80ZM1558.50,273.98h10.80v11.20h-10.80ZM1575.20,273.97h10.80v11.20h-10.80ZM1591.90,273.96h10.80v11.20h-10.80ZM1608.60,273.95h10.80v11.20h-10.80ZM1625.30,273.94h10.80v11.20h-10.80ZM1642.00,273.93h10.80v11.20h-10.80ZM1658.70,273.92h10.80v11.20h-10.80ZM1675.40,273.92h10.80v11.20h-10.80ZM1692.10,273.91h10.80v11.20h-10.80ZM1708.80,273.91h10.80v11.20h-10.80ZM1725.50,273.91h10.80v11.20h-10.80ZM1742.20,273.90h10.80v11.20h-10.80ZM1758.90,273.90h10.80v11.20h-10.80ZM1775.60,273.90h10.80v11.20h-10.80ZM1792.30,273.90h10.80v11.20h-10.80ZM1809.00,273.90h10.80v11.20h-10.80ZM1825.70,273.90h10.80v11.20h-10.80Z" stroke="#1f6fe8" stroke-width="1.15" fill="#fff" stroke-linejoin="round" shape-rendering="crispEdges"/>
<path d="M578.60,1361.60 L595.30,1354.00 L612.00,1345.90 L628.70,1336.80 L645.40,1327.70 L662.10,1318.10 L678.80,1306.90 L695.50,1295.00 L712.20,1283.00 L728.90,1269.30 L745.60,1253.80 L762.30,1237.90 L779.00,1219.10 L795.70,1200.00 L812.40,1178.10 L829.10,1155.50 L845.80,1130.38 L862.50,1103.30 L879.20,1073.70 L895.90,1044.00 L912.60,1011.80 L929.30,979.00 L946.00,945.00 L962.70,908.80 L979.40,872.00 L996.10,833.80 L1012.80,794.80 L1029.50,755.80 L1046.20,715.00 L1062.90,674.00 L1079.60,632.70 L1096.30,593.20 L1113.00,554.10 L1129.70,514.80 L1146.40,478.10 L1163.10,446.90 L1179.80,417.30 L1196.50,391.30 L1213.20,368.70 L1229.90,349.70 L1246.60,336.00 L1263.30,323.60 L1280.00,312.70 L1296.70,305.00" stroke="#36aa6a" stroke-width="5.0" fill="none" stroke-linejoin="round"/>
<path d="M227.90,1411.83 235.30,1399.03 220.50,1399.03ZM244.60,1411.83 252.00,1399.03 237.20,1399.03ZM261.30,1411.83 268.70,1399.03 253.90,1399.03ZM278.00,1411.83 285.40,1399.03 270.60,1399.03ZM294.70,1411.83 302.10,1399.03 287.30,1399.03ZM311.40,1411.83 318.80,1399.03 304.00,1399.03ZM328.10,1411.83 335.50,1399.03 320.70,1399.03ZM344.80,1411.83 352.20,1399.03 337.40,1399.03ZM361.50,1411.83 368.90,1399.03 354.10,1399.03ZM378.20,1411.83 385.60,1399.03 370.80,1399.03ZM394.90,1411.83 402.30,1399.03 387.50,1399.03ZM411.60,1411.83 419.00,1399.03 404.20,1399.03ZM428.30,1410.40 435.70,1397.60 420.90,1397.60ZM445.00,1408.40 452.40,1395.61 437.60,1395.61ZM461.70,1406.41 469.10,1393.61 454.30,1393.61ZM478.40,1403.56 485.80,1390.76 471.00,1390.76ZM495.10,1399.80 502.50,1387.00 487.70,1387.00ZM511.80,1394.70 519.20,1381.90 504.40,1381.90ZM528.50,1388.80 535.90,1376.00 521.10,1376.00ZM545.20,1382.70 552.60,1369.90 537.80,1369.90ZM561.90,1376.00 569.30,1363.20 554.50,1363.20ZM578.60,1369.40 586.00,1356.60 571.20,1356.60ZM595.30,1361.80 602.70,1349.00 587.90,1349.00ZM612.00,1353.70 619.40,1340.90 604.60,1340.90ZM628.70,1344.60 636.10,1331.80 621.30,1331.80ZM645.40,1335.50 652.80,1322.70 638.00,1322.70ZM662.10,1325.90 669.50,1313.10 654.70,1313.10ZM678.80,1314.70 686.20,1301.90 671.40,1301.90ZM695.50,1302.80 702.90,1290.00 688.10,1290.00ZM712.20,1290.80 719.60,1278.00 704.80,1278.00ZM728.90,1277.10 736.30,1264.30 721.50,1264.30ZM745.60,1261.60 753.00,1248.80 738.20,1248.80ZM762.30,1245.70 769.70,1232.90 754.90,1232.90ZM779.00,1226.90 786.40,1214.10 771.60,1214.10ZM795.70,1207.80 803.10,1195.00 788.30,1195.00ZM812.40,1185.90 819.80,1173.10 805.00,1173.10ZM829.10,1163.30 836.50,1150.50 821.70,1150.50ZM845.80,1138.18 853.20,1125.38 838.40,1125.38ZM862.50,1111.10 869.90,1098.30 855.10,1098.30ZM879.20,1081.50 886.60,1068.70 871.80,1068.70ZM895.90,1051.80 903.30,1039.00 888.50,1039.00ZM912.60,1019.60 920.00,1006.80 905.20,1006.80ZM929.30,986.80 936.70,974.00 921.90,974.00ZM946.00,952.80 953.40,940.00 938.60,940.00ZM962.70,916.60 970.10,903.80 955.30,903.80ZM979.40,879.80 986.80,867.00 972.00,867.00ZM996.10,841.60 1003.50,828.80 988.70,828.80ZM1012.80,802.60 1020.20,789.80 1005.40,789.80ZM1029.50,763.60 1036.90,750.80 1022.10,750.80ZM1046.20,722.80 1053.60,710.00 1038.80,710.00ZM1062.90,681.80 1070.30,669.00 1055.50,669.00ZM1079.60,640.50 1087.00,627.70 1072.20,627.70ZM1096.30,601.00 1103.70,588.20 1088.90,588.20ZM1113.00,561.90 1120.40,549.10 1105.60,549.10ZM1129.70,522.60 1137.10,509.80 1122.30,509.80ZM1146.40,485.90 1153.80,473.10 1139.00,473.10ZM1163.10,454.70 1170.50,441.90 1155.70,441.90ZM1179.80,425.10 1187.20,412.30 1172.40,412.30ZM1196.50,399.10 1203.90,386.30 1189.10,386.30ZM1213.20,376.50 1220.60,363.70 1205.80,363.70ZM1229.90,357.50 1237.30,344.70 1222.50,344.70ZM1246.60,343.80 1254.00,331.00 1239.20,331.00ZM1263.30,331.40 1270.70,318.60 1255.90,318.60ZM1280.00,320.50 1287.40,307.70 1272.60,307.70ZM1296.70,312.80 1304.10,300.00 1289.30,300.00ZM1313.40,306.76 1320.80,293.96 1306.00,293.96ZM1330.10,301.54 1337.50,288.74 1322.70,288.74ZM1346.80,297.75 1354.20,284.94 1339.40,284.94ZM1363.50,294.57 1370.90,281.77 1356.10,281.77ZM1380.20,292.42 1387.60,279.62 1372.80,279.62ZM1396.90,290.26 1404.30,277.46 1389.50,277.46ZM1413.60,289.55 1421.00,276.75 1406.20,276.75ZM1430.30,289.03 1437.70,276.23 1422.90,276.23ZM1447.00,288.31 1454.40,275.51 1439.60,275.51ZM1463.70,287.60 1471.10,274.80 1456.30,274.80ZM1480.40,287.56 1487.80,274.76 1473.00,274.76ZM1497.10,287.52 1504.50,274.72 1489.70,274.72ZM1513.80,287.49 1521.20,274.69 1506.40,274.69ZM1530.50,287.46 1537.90,274.66 1523.10,274.66ZM1547.20,287.44 1554.60,274.64 1539.80,274.64ZM1563.90,287.41 1571.30,274.61 1556.50,274.61ZM1580.60,287.39 1588.00,274.59 1573.20,274.59ZM1597.30,287.37 1604.70,274.57 1589.90,274.57ZM1614.00,287.36 1621.40,274.56 1606.60,274.56ZM1630.70,287.34 1638.10,274.54 1623.30,274.54ZM1647.40,287.33 1654.80,274.53 1640.00,274.53ZM1664.10,287.32 1671.50,274.52 1656.70,274.52ZM1680.80,287.31 1688.20,274.51 1673.40,274.51ZM1697.50,287.31 1704.90,274.51 1690.10,274.51ZM1714.20,287.30 1721.60,274.50 1706.80,274.50ZM1730.90,287.30 1738.30,274.50 1723.50,274.50ZM1747.60,287.29 1755.00,274.49 1740.20,274.49ZM1764.30,287.29 1771.70,274.49 1756.90,274.49ZM1781.00,287.29 1788.40,274.49 1773.60,274.49ZM1797.70,287.29 1805.10,274.49 1790.30,274.49ZM1814.40,287.29 1821.80,274.49 1807.00,274.49Z" stroke="#2f9f60" stroke-width="1.15" fill="#fff" stroke-linejoin="round" shape-rendering="crispEdges"/>
<path d="M728.90,1335.20 L745.60,1327.30 L762.30,1318.70 L779.00,1309.80 L795.70,1301.10 L812.40,1289.90 L829.10,1278.60 L845.80,1265.70 L862.50,1252.40 L879.20,1236.80 L895.90,1220.50 L912.60,1203.80 L929.30,1184.60 L946.00,1165.00 L962.70,1144.10 L979.40,1121.10 L996.10,1096.90 L1012.80,1071.90 L1029.50,1044.30 L1046.20,1015.00 L1062.90,983.00 L1079.60,949.20 L1096.30,916.10 L1113.00,879.00 L1129.70,840.80 L1146.40,800.70 L1163.10,759.70 L1179.80,717.60 L1196.50,675.40 L1213.20,631.20 L1229.90,592.40 L1246.60,552.90 L1263.30,515.20 L1280.00,479.20 L1296.70,444.50 L1313.40,411.90 L1330.10,383.40 L1346.80,358.00 L1363.50,336.20 L1380.20,317.70 L1396.90,304.70 L1413.60,293.68 L1430.30,285.52M1814.40,279.48 L1831.10,279.48" stroke="#ab78dd" stroke-width="5.0" fill="none" stroke-linejoin="round"/>
<path d="M221.45,1404.06a6.45,6.45 0 1,0 12.90,0a6.45,6.45 0 1,0 -12.90,0ZM238.15,1404.06a6.45,6.45 0 1,0 12.90,0a6.45,6.45 0 1,0 -12.90,0ZM254.85,1404.06a6.45,6.45 0 1,0 12.90,0a6.45,6.45 0 1,0 -12.90,0ZM271.55,1404.06a6.45,6.45 0 1,0 12.90,0a6.45,6.45 0 1,0 -12.90,0ZM288.25,1404.06a6.45,6.45 0 1,0 12.90,0a6.45,6.45 0 1,0 -12.90,0ZM304.95,1404.06a6.45,6.45 0 1,0 12.90,0a6.45,6.45 0 1,0 -12.90,0ZM321.65,1404.06a6.45,6.45 0 1,0 12.90,0a6.45,6.45 0 1,0 -12.90,0ZM338.35,1404.06a6.45,6.45 0 1,0 12.90,0a6.45,6.45 0 1,0 -12.90,0ZM355.05,1404.06a6.45,6.45 0 1,0 12.90,0a6.45,6.45 0 1,0 -12.90,0ZM371.75,1404.06a6.45,6.45 0 1,0 12.90,0a6.45,6.45 0 1,0 -12.90,0ZM388.45,1403.62a6.45,6.45 0 1,0 12.90,0a6.45,6.45 0 1,0 -12.90,0ZM405.15,1403.18a6.45,6.45 0 1,0 12.90,0a6.45,6.45 0 1,0 -12.90,0ZM421.85,1401.86a6.45,6.45 0 1,0 12.90,0a6.45,6.45 0 1,0 -12.90,0ZM438.55,1401.42a6.45,6.45 0 1,0 12.90,0a6.45,6.45 0 1,0 -12.90,0ZM455.25,1400.54a6.45,6.45 0 1,0 12.90,0a6.45,6.45 0 1,0 -12.90,0ZM471.95,1398.78a6.45,6.45 0 1,0 12.90,0a6.45,6.45 0 1,0 -12.90,0ZM488.65,1396.58a6.45,6.45 0 1,0 12.90,0a6.45,6.45 0 1,0 -12.90,0ZM505.35,1393.70a6.45,6.45 0 1,0 12.90,0a6.45,6.45 0 1,0 -12.90,0ZM522.05,1390.70a6.45,6.45 0 1,0 12.90,0a6.45,6.45 0 1,0 -12.90,0ZM538.75,1387.20a6.45,6.45 0 1,0 12.90,0a6.45,6.45 0 1,0 -12.90,0ZM555.45,1383.70a6.45,6.45 0 1,0 12.90,0a6.45,6.45 0 1,0 -12.90,0ZM572.15,1380.20a6.45,6.45 0 1,0 12.90,0a6.45,6.45 0 1,0 -12.90,0ZM588.85,1376.70a6.45,6.45 0 1,0 12.90,0a6.45,6.45 0 1,0 -12.90,0ZM605.55,1372.20a6.45,6.45 0 1,0 12.90,0a6.45,6.45 0 1,0 -12.90,0ZM622.25,1367.00a6.45,6.45 0 1,0 12.90,0a6.45,6.45 0 1,0 -12.90,0ZM638.95,1363.40a6.45,6.45 0 1,0 12.90,0a6.45,6.45 0 1,0 -12.90,0ZM655.65,1358.30a6.45,6.45 0 1,0 12.90,0a6.45,6.45 0 1,0 -12.90,0ZM672.35,1352.40a6.45,6.45 0 1,0 12.90,0a6.45,6.45 0 1,0 -12.90,0ZM689.05,1347.30a6.45,6.45 0 1,0 12.90,0a6.45,6.45 0 1,0 -12.90,0ZM705.75,1341.20a6.45,6.45 0 1,0 12.90,0a6.45,6.45 0 1,0 -12.90,0ZM722.45,1335.20a6.45,6.45 0 1,0 12.90,0a6.45,6.45 0 1,0 -12.90,0ZM739.15,1327.30a6.45,6.45 0 1,0 12.90,0a6.45,6.45 0 1,0 -12.90,0ZM755.85,1318.70a6.45,6.45 0 1,0 12.90,0a6.45,6.45 0 1,0 -12.90,0ZM772.55,1309.80a6.45,6.45 0 1,0 12.90,0a6.45,6.45 0 1,0 -12.90,0ZM789.25,1301.10a6.45,6.45 0 1,0 12.90,0a6.45,6.45 0 1,0 -12.90,0ZM805.95,1289.90a6.45,6.45 0 1,0 12.90,0a6.45,6.45 0 1,0 -12.90,0ZM822.65,1278.60a6.45,6.45 0 1,0 12.90,0a6.45,6.45 0 1,0 -12.90,0ZM839.35,1265.70a6.45,6.45 0 1,0 12.90,0a6.45,6.45 0 1,0 -12.90,0ZM856.05,1252.40a6.45,6.45 0 1,0 12.90,0a6.45,6.45 0 1,0 -12.90,0ZM872.75,1236.80a6.45,6.45 0 1,0 12.90,0a6.45,6.45 0 1,0 -12.90,0ZM889.45,1220.50a6.45,6.45 0 1,0 12.90,0a6.45,6.45 0 1,0 -12.90,0ZM906.15,1203.80a6.45,6.45 0 1,0 12.90,0a6.45,6.45 0 1,0 -12.90,0ZM922.85,1184.60a6.45,6.45 0 1,0 12.90,0a6.45,6.45 0 1,0 -12.90,0ZM939.55,1165.00a6.45,6.45 0 1,0 12.90,0a6.45,6.45 0 1,0 -12.90,0ZM956.25,1144.10a6.45,6.45 0 1,0 12.90,0a6.45,6.45 0 1,0 -12.90,0ZM972.95,1121.10a6.45,6.45 0 1,0 12.90,0a6.45,6.45 0 1,0 -12.90,0ZM989.65,1096.90a6.45,6.45 0 1,0 12.90,0a6.45,6.45 0 1,0 -12.90,0ZM1006.35,1071.90a6.45,6.45 0 1,0 12.90,0a6.45,6.45 0 1,0 -12.90,0ZM1023.05,1044.30a6.45,6.45 0 1,0 12.90,0a6.45,6.45 0 1,0 -12.90,0ZM1039.75,1015.00a6.45,6.45 0 1,0 12.90,0a6.45,6.45 0 1,0 -12.90,0ZM1056.45,983.00a6.45,6.45 0 1,0 12.90,0a6.45,6.45 0 1,0 -12.90,0ZM1073.15,949.20a6.45,6.45 0 1,0 12.90,0a6.45,6.45 0 1,0 -12.90,0ZM1089.85,916.10a6.45,6.45 0 1,0 12.90,0a6.45,6.45 0 1,0 -12.90,0ZM1106.55,879.00a6.45,6.45 0 1,0 12.90,0a6.45,6.45 0 1,0 -12.90,0ZM1123.25,840.80a6.45,6.45 0 1,0 12.90,0a6.45,6.45 0 1,0 -12.90,0ZM1139.95,800.70a6.45,6.45 0 1,0 12.90,0a6.45,6.45 0 1,0 -12.90,0ZM1156.65,759.70a6.45,6.45 0 1,0 12.90,0a6.45,6.45 0 1,0 -12.90,0ZM1173.35,717.60a6.45,6.45 0 1,0 12.90,0a6.45,6.45 0 1,0 -12.90,0ZM1190.05,675.40a6.45,6.45 0 1,0 12.90,0a6.45,6.45 0 1,0 -12.90,0ZM1206.75,631.20a6.45,6.45 0 1,0 12.90,0a6.45,6.45 0 1,0 -12.90,0ZM1223.45,592.40a6.45,6.45 0 1,0 12.90,0a6.45,6.45 0 1,0 -12.90,0ZM1240.15,552.90a6.45,6.45 0 1,0 12.90,0a6.45,6.45 0 1,0 -12.90,0ZM1256.85,515.20a6.45,6.45 0 1,0 12.90,0a6.45,6.45 0 1,0 -12.90,0ZM1273.55,479.20a6.45,6.45 0 1,0 12.90,0a6.45,6.45 0 1,0 -12.90,0ZM1290.25,444.50a6.45,6.45 0 1,0 12.90,0a6.45,6.45 0 1,0 -12.90,0ZM1306.95,411.90a6.45,6.45 0 1,0 12.90,0a6.45,6.45 0 1,0 -12.90,0ZM1323.65,383.40a6.45,6.45 0 1,0 12.90,0a6.45,6.45 0 1,0 -12.90,0ZM1340.35,358.00a6.45,6.45 0 1,0 12.90,0a6.45,6.45 0 1,0 -12.90,0ZM1357.05,336.20a6.45,6.45 0 1,0 12.90,0a6.45,6.45 0 1,0 -12.90,0ZM1373.75,317.70a6.45,6.45 0 1,0 12.90,0a6.45,6.45 0 1,0 -12.90,0ZM1390.45,304.70a6.45,6.45 0 1,0 12.90,0a6.45,6.45 0 1,0 -12.90,0ZM1407.15,293.68a6.45,6.45 0 1,0 12.90,0a6.45,6.45 0 1,0 -12.90,0ZM1423.85,285.52a6.45,6.45 0 1,0 12.90,0a6.45,6.45 0 1,0 -12.90,0ZM1440.55,282.13a6.45,6.45 0 1,0 12.90,0a6.45,6.45 0 1,0 -12.90,0ZM1457.25,280.54a6.45,6.45 0 1,0 12.90,0a6.45,6.45 0 1,0 -12.90,0ZM1473.95,279.69a6.45,6.45 0 1,0 12.90,0a6.45,6.45 0 1,0 -12.90,0ZM1490.65,279.66a6.45,6.45 0 1,0 12.90,0a6.45,6.45 0 1,0 -12.90,0ZM1507.35,279.64a6.45,6.45 0 1,0 12.90,0a6.45,6.45 0 1,0 -12.90,0ZM1524.05,279.61a6.45,6.45 0 1,0 12.90,0a6.45,6.45 0 1,0 -12.90,0ZM1540.75,279.59a6.45,6.45 0 1,0 12.90,0a6.45,6.45 0 1,0 -12.90,0ZM1557.45,279.58a6.45,6.45 0 1,0 12.90,0a6.45,6.45 0 1,0 -12.90,0ZM1574.15,279.56a6.45,6.45 0 1,0 12.90,0a6.45,6.45 0 1,0 -12.90,0ZM1590.85,279.54a6.45,6.45 0 1,0 12.90,0a6.45,6.45 0 1,0 -12.90,0ZM1607.55,279.53a6.45,6.45 0 1,0 12.90,0a6.45,6.45 0 1,0 -12.90,0ZM1624.25,279.52a6.45,6.45 0 1,0 12.90,0a6.45,6.45 0 1,0 -12.90,0ZM1640.95,279.51a6.45,6.45 0 1,0 12.90,0a6.45,6.45 0 1,0 -12.90,0ZM1657.65,279.50a6.45,6.45 0 1,0 12.90,0a6.45,6.45 0 1,0 -12.90,0ZM1674.35,279.50a6.45,6.45 0 1,0 12.90,0a6.45,6.45 0 1,0 -12.90,0ZM1691.05,279.49a6.45,6.45 0 1,0 12.90,0a6.45,6.45 0 1,0 -12.90,0ZM1707.75,279.49a6.45,6.45 0 1,0 12.90,0a6.45,6.45 0 1,0 -12.90,0ZM1724.45,279.48a6.45,6.45 0 1,0 12.90,0a6.45,6.45 0 1,0 -12.90,0ZM1741.15,279.48a6.45,6.45 0 1,0 12.90,0a6.45,6.45 0 1,0 -12.90,0ZM1757.85,279.48a6.45,6.45 0 1,0 12.90,0a6.45,6.45 0 1,0 -12.90,0ZM1774.55,279.48a6.45,6.45 0 1,0 12.90,0a6.45,6.45 0 1,0 -12.90,0ZM1791.25,279.48a6.45,6.45 0 1,0 12.90,0a6.45,6.45 0 1,0 -12.90,0ZM1807.95,279.48a6.45,6.45 0 1,0 12.90,0a6.45,6.45 0 1,0 -12.90,0ZM1824.65,279.48a6.45,6.45 0 1,0 12.90,0a6.45,6.45 0 1,0 -12.90,0Z" stroke="#b47ae8" stroke-width="1.15" fill="#fff" stroke-linejoin="round" shape-rendering="crispEdges"/>
<path d="M745.60,1343.70 L762.30,1335.90 L779.00,1328.10 L795.70,1318.30 L812.40,1308.60 L829.10,1297.70 L845.80,1285.50 L862.50,1272.00 L879.20,1258.70 L895.90,1243.90 L912.60,1227.50 L929.30,1210.40 L946.00,1192.00 L962.70,1172.20 L979.40,1151.80 L996.10,1129.50 L1012.80,1106.10 L1029.50,1080.80 L1046.20,1054.30 L1062.90,1025.50 L1079.60,994.30 L1096.30,961.50 L1113.00,926.90 L1129.70,889.80 L1146.40,851.30 L1163.10,811.80 L1179.80,771.30 L1196.50,728.80 L1213.20,687.40 L1229.90,645.80 L1246.60,603.90 L1263.30,562.20 L1280.00,522.70 L1296.70,484.20 L1313.40,447.20 L1330.10,413.90 L1346.80,382.80 L1363.50,355.60 L1380.20,332.70 L1396.90,315.50 L1413.60,302.60 L1430.30,293.44 L1447.00,286.72" stroke="#00ffff" stroke-width="5.0" fill="none" stroke-linejoin="round"/>
<path d="M227.90,1396.00 236.40,1404.50 227.90,1413.00 219.40,1404.50ZM244.60,1396.00 253.10,1404.50 244.60,1413.00 236.10,1404.50ZM261.30,1396.00 269.80,1404.50 261.30,1413.00 252.80,1404.50ZM278.00,1396.00 286.50,1404.50 278.00,1413.00 269.50,1404.50ZM294.70,1396.00 303.20,1404.50 294.70,1413.00 286.20,1404.50ZM311.40,1396.00 319.90,1404.50 311.40,1413.00 302.90,1404.50ZM328.10,1396.00 336.60,1404.50 328.10,1413.00 319.60,1404.50ZM344.80,1396.00 353.30,1404.50 344.80,1413.00 336.30,1404.50ZM361.50,1396.00 370.00,1404.50 361.50,1413.00 353.00,1404.50ZM378.20,1396.54 386.70,1405.04 378.20,1413.54 369.70,1405.04ZM394.90,1396.54 403.40,1405.04 394.90,1413.54 386.40,1405.04ZM411.60,1395.46 420.10,1403.96 411.60,1412.46 403.10,1403.96ZM428.30,1394.70 436.80,1403.20 428.30,1411.70 419.80,1403.20ZM445.00,1393.62 453.50,1402.12 445.00,1410.62 436.50,1402.12ZM461.70,1392.33 470.20,1400.83 461.70,1409.33 453.20,1400.83ZM478.40,1390.17 486.90,1398.67 478.40,1407.17 469.90,1398.67ZM495.10,1387.36 503.60,1395.86 495.10,1404.36 486.60,1395.86ZM511.80,1384.70 520.30,1393.20 511.80,1401.70 503.30,1393.20ZM528.50,1381.70 537.00,1390.20 528.50,1398.70 520.00,1390.20ZM545.20,1378.70 553.70,1387.20 545.20,1395.70 536.70,1387.20ZM561.90,1375.70 570.40,1384.20 561.90,1392.70 553.40,1384.20ZM578.60,1373.30 587.10,1381.80 578.60,1390.30 570.10,1381.80ZM595.30,1370.80 603.80,1379.30 595.30,1387.80 586.80,1379.30ZM612.00,1368.90 620.50,1377.40 612.00,1385.90 603.50,1377.40ZM628.70,1365.90 637.20,1374.40 628.70,1382.90 620.20,1374.40ZM645.40,1362.70 653.90,1371.20 645.40,1379.70 636.90,1371.20ZM662.10,1359.70 670.60,1368.20 662.10,1376.70 653.60,1368.20ZM678.80,1356.10 687.30,1364.60 678.80,1373.10 670.30,1364.60ZM695.50,1352.10 704.00,1360.60 695.50,1369.10 687.00,1360.60ZM712.20,1346.60 720.70,1355.10 712.20,1363.60 703.70,1355.10ZM728.90,1341.20 737.40,1349.70 728.90,1358.20 720.40,1349.70ZM745.60,1335.20 754.10,1343.70 745.60,1352.20 737.10,1343.70ZM762.30,1327.40 770.80,1335.90 762.30,1344.40 753.80,1335.90ZM779.00,1319.60 787.50,1328.10 779.00,1336.60 770.50,1328.10ZM795.70,1309.80 804.20,1318.30 795.70,1326.80 787.20,1318.30ZM812.40,1300.10 820.90,1308.60 812.40,1317.10 803.90,1308.60ZM829.10,1289.20 837.60,1297.70 829.10,1306.20 820.60,1297.70ZM845.80,1277.00 854.30,1285.50 845.80,1294.00 837.30,1285.50ZM862.50,1263.50 871.00,1272.00 862.50,1280.50 854.00,1272.00ZM879.20,1250.20 887.70,1258.70 879.20,1267.20 870.70,1258.70ZM895.90,1235.40 904.40,1243.90 895.90,1252.40 887.40,1243.90ZM912.60,1219.00 921.10,1227.50 912.60,1236.00 904.10,1227.50ZM929.30,1201.90 937.80,1210.40 929.30,1218.90 920.80,1210.40ZM946.00,1183.50 954.50,1192.00 946.00,1200.50 937.50,1192.00ZM962.70,1163.70 971.20,1172.20 962.70,1180.70 954.20,1172.20ZM979.40,1143.30 987.90,1151.80 979.40,1160.30 970.90,1151.80ZM996.10,1121.00 1004.60,1129.50 996.10,1138.00 987.60,1129.50ZM1012.80,1097.60 1021.30,1106.10 1012.80,1114.60 1004.30,1106.10ZM1029.50,1072.30 1038.00,1080.80 1029.50,1089.30 1021.00,1080.80ZM1046.20,1045.80 1054.70,1054.30 1046.20,1062.80 1037.70,1054.30ZM1062.90,1017.00 1071.40,1025.50 1062.90,1034.00 1054.40,1025.50ZM1079.60,985.80 1088.10,994.30 1079.60,1002.80 1071.10,994.30ZM1096.30,953.00 1104.80,961.50 1096.30,970.00 1087.80,961.50ZM1113.00,918.40 1121.50,926.90 1113.00,935.40 1104.50,926.90ZM1129.70,881.30 1138.20,889.80 1129.70,898.30 1121.20,889.80ZM1146.40,842.80 1154.90,851.30 1146.40,859.80 1137.90,851.30ZM1163.10,803.30 1171.60,811.80 1163.10,820.30 1154.60,811.80ZM1179.80,762.80 1188.30,771.30 1179.80,779.80 1171.30,771.30ZM1196.50,720.30 1205.00,728.80 1196.50,737.30 1188.00,728.80ZM1213.20,678.90 1221.70,687.40 1213.20,695.90 1204.70,687.40ZM1229.90,637.30 1238.40,645.80 1229.90,654.30 1221.40,645.80ZM1246.60,595.40 1255.10,603.90 1246.60,612.40 1238.10,603.90ZM1263.30,553.70 1271.80,562.20 1263.30,570.70 1254.80,562.20ZM1280.00,514.20 1288.50,522.70 1280.00,531.20 1271.50,522.70ZM1296.70,475.70 1305.20,484.20 1296.70,492.70 1288.20,484.20ZM1313.40,438.70 1321.90,447.20 1313.40,455.70 1304.90,447.20ZM1330.10,405.40 1338.60,413.90 1330.10,422.40 1321.60,413.90ZM1346.80,374.30 1355.30,382.80 1346.80,391.30 1338.30,382.80ZM1363.50,347.10 1372.00,355.60 1363.50,364.10 1355.00,355.60ZM1380.20,324.20 1388.70,332.70 1380.20,341.20 1371.70,332.70ZM1396.90,307.00 1405.40,315.50 1396.90,324.00 1388.40,315.50ZM1413.60,294.10 1422.10,302.60 1413.60,311.10 1405.10,302.60ZM1430.30,284.94 1438.80,293.44 1430.30,301.94 1421.80,293.44ZM1447.00,278.22 1455.50,286.72 1447.00,295.22 1438.50,286.72ZM1463.70,275.34 1472.20,283.84 1463.70,292.34 1455.20,283.84ZM1480.40,272.94 1488.90,281.44 1480.40,289.94 1471.90,281.44ZM1497.10,271.98 1505.60,280.48 1497.10,288.98 1488.60,280.48ZM1513.80,271.11 1522.30,279.61 1513.80,288.11 1505.30,279.61ZM1530.50,271.10 1539.00,279.60 1530.50,288.10 1522.00,279.60ZM1547.20,271.08 1555.70,279.58 1547.20,288.08 1538.70,279.58ZM1563.90,271.07 1572.40,279.57 1563.90,288.07 1555.40,279.57ZM1580.60,271.06 1589.10,279.56 1580.60,288.06 1572.10,279.56ZM1597.30,271.05 1605.80,279.55 1597.30,288.05 1588.80,279.55ZM1614.00,271.05 1622.50,279.55 1614.00,288.05 1605.50,279.55ZM1630.70,271.04 1639.20,279.54 1630.70,288.04 1622.20,279.54ZM1647.40,271.03 1655.90,279.53 1647.40,288.03 1638.90,279.53ZM1664.10,271.03 1672.60,279.53 1664.10,288.03 1655.60,279.53ZM1680.80,271.03 1689.30,279.53 1680.80,288.03 1672.30,279.53ZM1697.50,271.02 1706.00,279.52 1697.50,288.02 1689.00,279.52ZM1714.20,271.02 1722.70,279.52 1714.20,288.02 1705.70,279.52ZM1730.90,271.02 1739.40,279.52 1730.90,288.02 1722.40,279.52ZM1747.60,271.02 1756.10,279.52 1747.60,288.02 1739.10,279.52ZM1764.30,271.02 1772.80,279.52 1764.30,288.02 1755.80,279.52ZM1781.00,271.02 1789.50,279.52 1781.00,288.02 1772.50,279.52ZM1797.70,271.02 1806.20,279.52 1797.70,288.02 1789.20,279.52ZM1814.40,271.02 1822.90,279.52 1814.40,288.02 1805.90,279.52Z" stroke="#00f2ff" stroke-width="1.15" fill="#fff" stroke-linejoin="round" shape-rendering="crispEdges"/>
<path d="M728.90,1341.40 L745.60,1334.10 L762.30,1326.80 L779.00,1317.70 L795.70,1307.60 L812.40,1297.10 L829.10,1285.00 L845.80,1271.70 L862.50,1257.70 L879.20,1242.10 L895.90,1228.10 L912.60,1210.10 L929.30,1193.00 L946.00,1172.90 L962.70,1152.50 L979.40,1130.50 L996.10,1108.40 L1012.80,1083.40 L1029.50,1057.70 L1046.20,1029.60 L1062.90,1000.00 L1079.60,968.80 L1096.30,934.90 L1113.00,901.40 L1129.70,864.80 L1146.40,827.80 L1163.10,790.70 L1179.80,752.50 L1196.50,713.00 L1213.20,673.60 L1229.90,634.00 L1246.60,596.60 L1263.30,558.10 L1280.00,521.80 L1296.70,486.00 L1313.40,449.10 L1330.10,417.20 L1346.80,387.40 L1363.50,359.20 L1380.20,336.10 L1396.90,318.90 L1413.60,305.40 L1430.30,295.12 L1447.00,287.36" stroke="#aa5200" stroke-width="5.0" fill="none" stroke-linejoin="round"/>
<path d="M227.90,1396.18 235.13,1401.43 232.37,1409.93 223.43,1409.93 220.67,1401.43ZM244.60,1396.18 251.83,1401.43 249.07,1409.93 240.13,1409.93 237.37,1401.43ZM261.30,1396.18 268.53,1401.43 265.77,1409.93 256.83,1409.93 254.07,1401.43ZM278.00,1396.18 285.23,1401.43 282.47,1409.93 273.53,1409.93 270.77,1401.43ZM294.70,1396.18 301.93,1401.43 299.17,1409.93 290.23,1409.93 287.47,1401.43ZM311.40,1396.18 318.63,1401.43 315.87,1409.93 306.93,1409.93 304.17,1401.43ZM328.10,1396.18 335.33,1401.43 332.57,1409.93 323.63,1409.93 320.87,1401.43ZM344.80,1396.18 352.03,1401.43 349.27,1409.93 340.33,1409.93 337.57,1401.43ZM361.50,1396.18 368.73,1401.43 365.97,1409.93 357.03,1409.93 354.27,1401.43ZM378.20,1395.46 385.43,1400.71 382.67,1409.21 373.73,1409.21 370.97,1400.71ZM394.90,1395.10 402.13,1400.35 399.37,1408.85 390.43,1408.85 387.67,1400.35ZM411.60,1394.65 418.83,1399.90 416.07,1408.40 407.13,1408.40 404.37,1399.90ZM428.30,1393.57 435.53,1398.82 432.77,1407.32 423.83,1407.32 421.07,1398.82ZM445.00,1393.12 452.23,1398.37 449.47,1406.87 440.53,1406.87 437.77,1398.37ZM461.70,1392.49 468.93,1397.74 466.17,1406.24 457.23,1406.24 454.47,1397.74ZM478.40,1390.69 485.63,1395.94 482.87,1404.44 473.93,1404.44 471.17,1395.94ZM495.10,1388.40 502.33,1393.65 499.57,1402.15 490.63,1402.15 487.87,1393.65ZM511.80,1385.70 519.03,1390.95 516.27,1399.45 507.33,1399.45 504.57,1390.95ZM528.50,1382.20 535.73,1387.45 532.97,1395.95 524.03,1395.95 521.27,1387.45ZM545.20,1378.70 552.43,1383.95 549.67,1392.45 540.73,1392.45 537.97,1383.95ZM561.90,1375.20 569.13,1380.45 566.37,1388.95 557.43,1388.95 554.67,1380.45ZM578.60,1372.70 585.83,1377.95 583.07,1386.45 574.13,1386.45 571.37,1377.95ZM595.30,1369.00 602.53,1374.25 599.77,1382.75 590.83,1382.75 588.07,1374.25ZM612.00,1366.10 619.23,1371.35 616.47,1379.85 607.53,1379.85 604.77,1371.35ZM628.70,1362.50 635.93,1367.75 633.17,1376.25 624.23,1376.25 621.47,1367.75ZM645.40,1358.80 652.63,1364.05 649.87,1372.55 640.93,1372.55 638.17,1364.05ZM662.10,1355.00 669.33,1360.25 666.57,1368.75 657.63,1368.75 654.87,1360.25ZM678.80,1350.80 686.03,1356.05 683.27,1364.55 674.33,1364.55 671.57,1356.05ZM695.50,1345.90 702.73,1351.15 699.97,1359.65 691.03,1359.65 688.27,1351.15ZM712.20,1339.90 719.43,1345.15 716.67,1353.65 707.73,1353.65 704.97,1345.15ZM728.90,1333.80 736.13,1339.05 733.37,1347.55 724.43,1347.55 721.67,1339.05ZM745.60,1326.50 752.83,1331.75 750.07,1340.25 741.13,1340.25 738.37,1331.75ZM762.30,1319.20 769.53,1324.45 766.77,1332.95 757.83,1332.95 755.07,1324.45ZM779.00,1310.10 786.23,1315.35 783.47,1323.85 774.53,1323.85 771.77,1315.35ZM795.70,1300.00 802.93,1305.25 800.17,1313.75 791.23,1313.75 788.47,1305.25ZM812.40,1289.50 819.63,1294.75 816.87,1303.25 807.93,1303.25 805.17,1294.75ZM829.10,1277.40 836.33,1282.65 833.57,1291.15 824.63,1291.15 821.87,1282.65ZM845.80,1264.10 853.03,1269.35 850.27,1277.85 841.33,1277.85 838.57,1269.35ZM862.50,1250.10 869.73,1255.35 866.97,1263.85 858.03,1263.85 855.27,1255.35ZM879.20,1234.50 886.43,1239.75 883.67,1248.25 874.73,1248.25 871.97,1239.75ZM895.90,1220.50 903.13,1225.75 900.37,1234.25 891.43,1234.25 888.67,1225.75ZM912.60,1202.50 919.83,1207.75 917.07,1216.25 908.13,1216.25 905.37,1207.75ZM929.30,1185.40 936.53,1190.65 933.77,1199.15 924.83,1199.15 922.07,1190.65ZM946.00,1165.30 953.23,1170.55 950.47,1179.05 941.53,1179.05 938.77,1170.55ZM962.70,1144.90 969.93,1150.15 967.17,1158.65 958.23,1158.65 955.47,1150.15ZM979.40,1122.90 986.63,1128.15 983.87,1136.65 974.93,1136.65 972.17,1128.15ZM996.10,1100.80 1003.33,1106.05 1000.57,1114.55 991.63,1114.55 988.87,1106.05ZM1012.80,1075.80 1020.03,1081.05 1017.27,1089.55 1008.33,1089.55 1005.57,1081.05ZM1029.50,1050.10 1036.73,1055.35 1033.97,1063.85 1025.03,1063.85 1022.27,1055.35ZM1046.20,1022.00 1053.43,1027.25 1050.67,1035.75 1041.73,1035.75 1038.97,1027.25ZM1062.90,992.40 1070.13,997.65 1067.37,1006.15 1058.43,1006.15 1055.67,997.65ZM1079.60,961.20 1086.83,966.45 1084.07,974.95 1075.13,974.95 1072.37,966.45ZM1096.30,927.30 1103.53,932.55 1100.77,941.05 1091.83,941.05 1089.07,932.55ZM1113.00,893.80 1120.23,899.05 1117.47,907.55 1108.53,907.55 1105.77,899.05ZM1129.70,857.20 1136.93,862.45 1134.17,870.95 1125.23,870.95 1122.47,862.45ZM1146.40,820.20 1153.63,825.45 1150.87,833.95 1141.93,833.95 1139.17,825.45ZM1163.10,783.10 1170.33,788.35 1167.57,796.85 1158.63,796.85 1155.87,788.35ZM1179.80,744.90 1187.03,750.15 1184.27,758.65 1175.33,758.65 1172.57,750.15ZM1196.50,705.40 1203.73,710.65 1200.97,719.15 1192.03,719.15 1189.27,710.65ZM1213.20,666.00 1220.43,671.25 1217.67,679.75 1208.73,679.75 1205.97,671.25ZM1229.90,626.40 1237.13,631.65 1234.37,640.15 1225.43,640.15 1222.67,631.65ZM1246.60,589.00 1253.83,594.25 1251.07,602.75 1242.13,602.75 1239.37,594.25ZM1263.30,550.50 1270.53,555.75 1267.77,564.25 1258.83,564.25 1256.07,555.75ZM1280.00,514.20 1287.23,519.45 1284.47,527.95 1275.53,527.95 1272.77,519.45ZM1296.70,478.40 1303.93,483.65 1301.17,492.15 1292.23,492.15 1289.47,483.65ZM1313.40,441.50 1320.63,446.75 1317.87,455.25 1308.93,455.25 1306.17,446.75ZM1330.10,409.60 1337.33,414.85 1334.57,423.35 1325.63,423.35 1322.87,414.85ZM1346.80,379.80 1354.03,385.05 1351.27,393.55 1342.33,393.55 1339.57,385.05ZM1363.50,351.60 1370.73,356.85 1367.97,365.35 1359.03,365.35 1356.27,356.85ZM1380.20,328.50 1387.43,333.75 1384.67,342.25 1375.73,342.25 1372.97,333.75ZM1396.90,311.30 1404.13,316.55 1401.37,325.05 1392.43,325.05 1389.67,316.55ZM1413.60,297.80 1420.83,303.05 1418.07,311.55 1409.13,311.55 1406.37,303.05ZM1430.30,287.52 1437.53,292.78 1434.77,301.27 1425.83,301.27 1423.07,292.78ZM1447.00,279.75 1454.23,285.01 1451.47,293.50 1442.53,293.50 1439.77,285.01ZM1463.70,275.66 1470.93,280.91 1468.17,289.41 1459.23,289.41 1456.47,280.91ZM1480.40,273.45 1487.63,278.71 1484.87,287.20 1475.93,287.20 1473.17,278.71ZM1497.10,272.40 1504.33,277.66 1501.57,286.15 1492.63,286.15 1489.87,277.66ZM1513.80,271.88 1521.03,277.13 1518.27,285.63 1509.33,285.63 1506.57,277.13ZM1530.50,271.88 1537.73,277.13 1534.97,285.63 1526.03,285.63 1523.27,277.13ZM1547.20,271.88 1554.43,277.13 1551.67,285.63 1542.73,285.63 1539.97,277.13ZM1563.90,271.88 1571.13,277.13 1568.37,285.63 1559.43,285.63 1556.67,277.13ZM1580.60,271.88 1587.83,277.13 1585.07,285.63 1576.13,285.63 1573.37,277.13ZM1597.30,271.88 1604.53,277.13 1601.77,285.63 1592.83,285.63 1590.07,277.13ZM1614.00,271.88 1621.23,277.13 1618.47,285.63 1609.53,285.63 1606.77,277.13ZM1630.70,271.88 1637.93,277.13 1635.17,285.63 1626.23,285.63 1623.47,277.13ZM1647.40,271.88 1654.63,277.13 1651.87,285.63 1642.93,285.63 1640.17,277.13ZM1664.10,271.88 1671.33,277.13 1668.57,285.63 1659.63,285.63 1656.87,277.13ZM1680.80,271.88 1688.03,277.13 1685.27,285.63 1676.33,285.63 1673.57,277.13ZM1697.50,271.88 1704.73,277.13 1701.97,285.63 1693.03,285.63 1690.27,277.13ZM1714.20,271.88 1721.43,277.13 1718.67,285.63 1709.73,285.63 1706.97,277.13ZM1730.90,271.88 1738.13,277.13 1735.37,285.63 1726.43,285.63 1723.67,277.13ZM1747.60,271.88 1754.83,277.13 1752.07,285.63 1743.13,285.63 1740.37,277.13ZM1764.30,271.88 1771.53,277.13 1768.77,285.63 1759.83,285.63 1757.07,277.13ZM1781.00,271.88 1788.23,277.13 1785.47,285.63 1776.53,285.63 1773.77,277.13ZM1797.70,271.88 1804.93,277.13 1802.17,285.63 1793.23,285.63 1790.47,277.13ZM1814.40,271.88 1821.63,277.13 1818.87,285.63 1809.93,285.63 1807.17,277.13Z" stroke="#b05a10" stroke-width="1.15" fill="#fff" stroke-linejoin="round" shape-rendering="crispEdges"/>
<rect x="338" y="1393" width="3" height="10" fill="#000"/><rect x="408" y="1393" width="3" height="10" fill="#000"/><rect x="458" y="1393" width="3" height="10" fill="#000"/><rect x="497" y="1393" width="3" height="10" fill="#000"/><rect x="529" y="1393" width="3" height="10" fill="#000"/><rect x="556" y="1393" width="3" height="10" fill="#000"/><rect x="579" y="1393" width="3" height="10" fill="#000"/><rect x="599" y="1393" width="3" height="10" fill="#000"/><rect x="618" y="1382" width="3" height="21" fill="#000"/><rect x="738" y="1393" width="3" height="10" fill="#000"/><rect x="808" y="1393" width="3" height="10" fill="#000"/><rect x="858" y="1393" width="3" height="10" fill="#000"/><rect x="897" y="1393" width="3" height="10" fill="#000"/><rect x="929" y="1393" width="3" height="10" fill="#000"/><rect x="956" y="1393" width="3" height="10" fill="#000"/><rect x="979" y="1393" width="3" height="10" fill="#000"/><rect x="999" y="1393" width="3" height="10" fill="#000"/><rect x="1018" y="1382" width="3" height="21" fill="#000"/><rect x="1138" y="1393" width="3" height="10" fill="#000"/><rect x="1208" y="1393" width="3" height="10" fill="#000"/><rect x="1258" y="1393" width="3" height="10" fill="#000"/><rect x="1296" y="1393" width="3" height="10" fill="#000"/><rect x="1329" y="1393" width="3" height="10" fill="#000"/><rect x="1355" y="1393" width="3" height="10" fill="#000"/><rect x="1379" y="1393" width="3" height="10" fill="#000"/><rect x="1399" y="1393" width="3" height="10" fill="#000"/><rect x="1417" y="1382" width="3" height="21" fill="#000"/><rect x="1538" y="1393" width="3" height="10" fill="#000"/><rect x="1608" y="1393" width="3" height="10" fill="#000"/><rect x="1658" y="1393" width="3" height="10" fill="#000"/><rect x="1697" y="1393" width="3" height="10" fill="#000"/><rect x="1728" y="1393" width="3" height="10" fill="#000"/><rect x="1755" y="1393" width="3" height="10" fill="#000"/><rect x="1779" y="1393" width="3" height="10" fill="#000"/><rect x="1799" y="1393" width="3" height="10" fill="#000"/><rect x="221" y="1290" width="10" height="3" fill="#000"/><rect x="221" y="1178" width="21" height="3" fill="#000"/><rect x="221" y="1065" width="10" height="3" fill="#000"/><rect x="221" y="953" width="21" height="3" fill="#000"/><rect x="221" y="840" width="10" height="3" fill="#000"/><rect x="221" y="728" width="21" height="3" fill="#000"/><rect x="221" y="615" width="10" height="3" fill="#000"/><rect x="221" y="503" width="21" height="3" fill="#000"/><rect x="221" y="390" width="10" height="3" fill="#000"/><rect x="221" y="278" width="21" height="3" fill="#000"/><rect x="221" y="165" width="10" height="3" fill="#000"/><rect x="218" y="53" width="3" height="1353" fill="#000"/><rect x="218" y="1403" width="1603" height="3" fill="#000"/><rect x="218" y="53" width="1603" height="4" fill="#000"/><rect x="1817" y="53" width="4" height="1353" fill="#000"/>
<rect x="218" y="53" width="343" height="484" fill="#fff"/>
<rect x="218" y="53" width="343" height="4" fill="#000"/><rect x="218" y="53" width="3" height="484" fill="#000"/><rect x="558" y="53" width="4" height="484" fill="#000"/><rect x="218" y="533" width="344" height="4" fill="#000"/>
<path d="M227.5 93.30H351.5" stroke="#000000" stroke-width="5.0" fill="none"/>
<path d="M289.20,86.60 291.08,90.71 295.57,91.23 292.24,94.29 293.14,98.72 289.20,96.50 285.26,98.72 286.16,94.29 282.83,91.23 287.32,90.71Z" stroke="#000000" stroke-width="1.15" fill="#fff" stroke-linejoin="round" shape-rendering="crispEdges"/>
<text x="363.10" y="111.60" font-size="56" letter-spacing="-0.3">SAC</text>
<path d="M227.5 160.65H351.5" stroke="#ee3e3e" stroke-width="5.0" fill="none"/>
<path d="M289.20,151.95 296.45,165.25 281.95,165.25Z" stroke="#ff0000" stroke-width="1.15" fill="#fff" stroke-linejoin="round" shape-rendering="crispEdges"/>
<text x="363.00" y="178.95" font-size="56" letter-spacing="-0.25">OPC</text>
<path d="M227.5 228.00H351.5" stroke="#1c6ce0" stroke-width="5.0" fill="none"/>
<path d="M283.90,222.30h10.60v11.40h-10.60Z" stroke="#1f6fe8" stroke-width="1.15" fill="#fff" stroke-linejoin="round" shape-rendering="crispEdges"/>
<text x="363.50" y="246.30" font-size="56" letter-spacing="1.5">FA</text>
<path d="M227.5 295.35H351.5" stroke="#36aa6a" stroke-width="5.0" fill="none"/>
<path d="M289.20,304.15 296.45,290.85 281.95,290.85Z" stroke="#2f9f60" stroke-width="1.15" fill="#fff" stroke-linejoin="round" shape-rendering="crispEdges"/>
<text x="363.10" y="313.65" font-size="56" letter-spacing="-2.4">GGBFS</text>
<path d="M227.5 362.70H351.5" stroke="#ab78dd" stroke-width="5.0" fill="none"/>
<path d="M284.00,362.70a5.2,5.2 0 1,0 10.40,0a5.2,5.2 0 1,0 -10.40,0Z" stroke="#b47ae8" stroke-width="1.15" fill="#fff" stroke-linejoin="round" shape-rendering="crispEdges"/>
<text x="363.40" y="381.00" font-size="56" letter-spacing="-1.2">WCP-50</text>
<path d="M227.5 430.05H351.5" stroke="#aa5200" stroke-width="5.0" fill="none"/>
<path d="M289.20,423.45 295.48,428.01 293.08,435.39 285.32,435.39 282.92,428.01Z" stroke="#b05a10" stroke-width="1.15" fill="#fff" stroke-linejoin="round" shape-rendering="crispEdges"/>
<text x="363.40" y="448.35" font-size="56" letter-spacing="-1.2">WCP-40</text>
<path d="M227.5 497.40H351.5" stroke="#00ffff" stroke-width="5.0" fill="none"/>
<path d="M289.20,489.30 295.70,497.40 289.20,505.50 282.70,497.40Z" stroke="#00f2ff" stroke-width="1.15" fill="#fff" stroke-linejoin="round" shape-rendering="crispEdges"/>
<text x="364.40" y="515.70" font-size="56" letter-spacing="-1.2">WCP-30</text>
<text x="195.5" y="1423.80" font-size="67" text-anchor="end">0</text>
<text x="195.5" y="1198.88" font-size="67" text-anchor="end">20</text>
<text x="195.5" y="973.97" font-size="67" text-anchor="end">40</text>
<text x="195.5" y="749.05" font-size="67" text-anchor="end">60</text>
<text x="195.5" y="524.13" font-size="67" text-anchor="end">80</text>
<text x="195.5" y="299.22" font-size="67" text-anchor="end">100</text>
<text x="195.5" y="74.30" font-size="67" text-anchor="end">120</text>
<text x="219.50" y="1488.7" font-size="67" text-anchor="middle">10<tspan font-size="44" dy="-27">−1</tspan></text>
<text x="619.50" y="1488.7" font-size="67" text-anchor="middle">10<tspan font-size="44" dy="-27">0</tspan></text>
<text x="1019.50" y="1488.7" font-size="67" text-anchor="middle">10<tspan font-size="44" dy="-27">1</tspan></text>
<text x="1419.50" y="1488.7" font-size="67" text-anchor="middle">10<tspan font-size="44" dy="-27">2</tspan></text>
<text x="1819.50" y="1488.7" font-size="67" text-anchor="middle">10<tspan font-size="44" dy="-27">3</tspan></text>
<text x="1047" y="1568.7" font-size="79" text-anchor="middle">Particle size (μm)</text>
<text transform="translate(80.5,728.5) rotate(-90)" x="0" y="0" font-size="80" text-anchor="middle">Cumulative distribution (%)</text>
</svg></body></html>
